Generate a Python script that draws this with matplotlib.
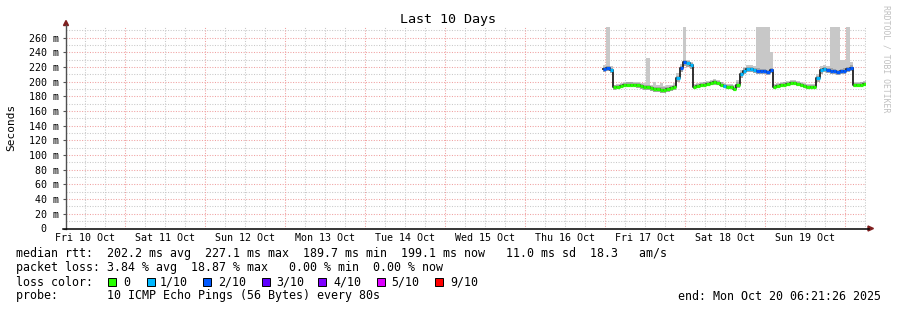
import matplotlib
matplotlib.use("Agg")
import matplotlib.pyplot as plt
import matplotlib.dates as mdates
from matplotlib.patches import Rectangle, Polygon
from datetime import datetime, timedelta
import numpy as np

# ---------------- data ----------------
title = "Last 10 Days"
y_label = "Seconds"
start_time = datetime(2025, 10, 10, 6, 21, 26)
end_time = datetime(2025, 10, 20, 6, 21, 26)
series_start = datetime(2025, 10, 16, 23, 30)   # first hourly sample

median_ms = [217, 218, 216, 192, 193, 194, 195, 196, 196, 195,
             195, 194, 193, 192, 191, 190, 190, 189, 189, 190,
             191, 193, 205, 218, 226, 225, 222, 193, 194, 195,
             196, 197, 198, 199, 198, 196, 194, 193, 193, 190,
             196, 210, 215, 217, 217, 216, 215, 214, 214, 213,
             216, 193, 194, 195, 196, 197, 198, 198, 197, 195,
             194, 193, 193, 193, 205, 216, 217, 216, 215, 214,
             213, 214, 215, 217, 219, 195, 195, 196, 197]
loss_level = [2, 2, 1, 0, 0, 0, 0, 0, 0, 0,
              0, 0, 0, 0, 0, 0, 0, 0, 0, 0,
              0, 0, 1, 2, 2, 1, 1, 0, 0, 0,
              0, 0, 0, 0, 0, 0, 1, 0, 0, 0,
              0, 1, 1, 1, 1, 1, 2, 2, 2, 2,
              2, 0, 0, 0, 0, 0, 0, 0, 0, 0,
              0, 0, 0, 0, 1, 1, 1, 2, 2, 2,
              2, 2, 2, 2, 2, 0, 0, 0, 0]
smoke_hi = [222, 290, 221, 196, 197, 198, 199, 200, 200, 199,
            199, 198, 198, 232, 196, 200, 195, 198, 194, 195,
            196, 198, 212, 224, 290, 230, 227, 197, 198, 199,
            200, 201, 202, 203, 202, 200, 198, 197, 197, 196,
            202, 216, 220, 222, 222, 221, 290, 290, 290, 290,
            240, 197, 198, 199, 200, 201, 202, 202, 201, 199,
            198, 197, 197, 197, 211, 221, 222, 221, 290, 290,
            290, 229, 230, 290, 226, 199, 199, 200, 201]
smoke_lo = [213, 214, 212, 189, 190, 191, 192, 193, 193, 192,
            191, 190, 189, 188, 187, 186, 186, 185, 185, 186,
            187, 189, 199, 213, 221, 220, 217, 190, 191, 192,
            193, 194, 195, 196, 195, 193, 191, 190, 190, 187,
            191, 205, 211, 213, 213, 212, 211, 210, 210, 209,
            212, 190, 191, 192, 193, 194, 195, 195, 194, 192,
            191, 190, 190, 190, 199, 211, 213, 212, 211, 210,
            209, 210, 211, 213, 215, 192, 192, 193, 194]

loss_labels = ["0", "1/10", "2/10", "3/10", "4/10", "5/10", "9/10"]
loss_colors = ["#26ff00", "#00b8ff", "#0059ff", "#5e00ff", "#7e00ff", "#dd00ff", "#ff0000"]

day_labels = ["Fri 10 Oct", "Sat 11 Oct", "Sun 12 Oct", "Mon 13 Oct", "Tue 14 Oct",
              "Wed 15 Oct", "Thu 16 Oct", "Fri 17 Oct", "Sat 18 Oct", "Sun 19 Oct"]
y_ticks = [0, 20, 40, 60, 80, 100, 120, 140, 160, 180, 200, 220, 240, 260]

line_rtt = "median rtt:  202.2 ms avg  227.1 ms max  189.7 ms min  199.1 ms now   11.0 ms sd  18.3   am/s"
line_loss = "packet loss: 3.84 % avg  18.87 % max   0.00 % min  0.00 % now"
line_color = "loss color:"
line_probe = "probe:       10 ICMP Echo Pings (56 Bytes) every 80s"
line_end = "end: Mon Oct 20 06:21:26 2025"
watermark = "RRDTOOL / TOBI OETIKER"

# ---------------- figure ----------------
W, H = 897, 310
MONO = "DejaVu Sans Mono"
fig = plt.figure(figsize=(W / 100, H / 100), dpi=100)
fig.patch.set_facecolor("white")

left_px, right_px, top_px, bot_px = 66, 866, 27, 228.5
ax = fig.add_axes([left_px / W, 1 - bot_px / H, (right_px - left_px) / W, (bot_px - top_px) / H])
ax.set_facecolor("white")

x0 = mdates.date2num(start_time)
x1 = mdates.date2num(end_time)
ax.set_xlim(x0, x1)
ax.set_ylim(0, 274.3)

# grid lines
dot = (0, (1, 1.5))
RED = "#f0a0a0"
GRAY = "#c8c8c8"
for v in range(10, 275, 10):
    major = (v % 20 == 0)
    ax.axhline(v, color=RED if major else GRAY, lw=0.75, ls=dot, zorder=0.5)
grid_t = datetime(2025, 10, 10, 12, 0)
while grid_t < end_time:
    xv = mdates.date2num(grid_t)
    if xv > x0:
        ax.axvline(xv, color=RED if grid_t.hour == 0 else GRAY, lw=0.75, ls=dot, zorder=0.5)
    grid_t += timedelta(hours=6)

# series
n = len(median_ms)
times = [series_start + timedelta(hours=i) for i in range(n + 1)]
tn = mdates.date2num(times)
med = np.array(median_ms + [median_ms[-1]], dtype=float)
hi = np.array(smoke_hi + [smoke_hi[-1]], dtype=float)
lo = np.array(smoke_lo + [smoke_lo[-1]], dtype=float)

ax.fill_between(tn, lo, hi, step="post", color="#c8c8c8", lw=0, zorder=1)
inner_hi = np.minimum(hi, med + 3)
ax.fill_between(tn, lo, inner_hi, step="post", color="#a6a6a6", lw=0, zorder=1.2)
ax.plot(tn, med, drawstyle="steps-post", color="#202020", lw=1.3, zorder=2)
for i in range(n):
    ax.hlines(median_ms[i], tn[i], tn[i + 1], color=loss_colors[loss_level[i]],
              lw=2.3, zorder=3, capstyle="butt")

# axes / ticks
for s in ax.spines.values():
    s.set_visible(False)
ax.set_yticks(y_ticks)
ax.set_yticklabels([("%d m" % v) if v else "0  " for v in y_ticks], fontfamily=MONO, fontsize=7.2)
ax.tick_params(axis="y", length=2, width=0.8, color="#555555", pad=3)
noon_ticks = [mdates.date2num(datetime(2025, 10, 10 + k, 12, 0)) for k in range(len(day_labels))]
ax.set_xticks(noon_ticks)
ax.set_xticklabels(day_labels, fontfamily=MONO, fontsize=7.2)
ax.tick_params(axis="x", length=0, pad=3)

# axis lines with arrows (figure pixel coords)
def fx(px):
    return px / W

def fy(py):
    return 1 - py / H

fig.add_artist(plt.Line2D([fx(66), fx(66)], [fy(229), fy(25)], color="#505050", lw=1))
fig.add_artist(plt.Line2D([fx(63), fx(869)], [fy(228.5), fy(228.5)], color="black", lw=1.1))
fig.add_artist(Polygon([[fx(63.5), fy(25.5)], [fx(68.5), fy(25.5)], [fx(66), fy(20.5)]],
                       closed=True, color="#7f1f1f", transform=fig.transFigure))
fig.add_artist(Polygon([[fx(868), fy(226)], [fx(868), fy(231)], [fx(873.5), fy(228.5)]],
                       closed=True, color="#7f1f1f", transform=fig.transFigure))

# texts
fig.text(fx(448), fy(19), title, fontfamily=MONO, fontsize=9.6, ha="center", va="center")
fig.text(fx(11), fy(127), y_label, fontfamily=MONO, fontsize=8, rotation=90, ha="center", va="center")
fig.text(fx(886), fy(5), watermark, fontfamily=MONO, fontsize=5.9, rotation=-90,
         ha="center", va="top", color="#c0c0c0")

fs = 8.37
fig.text(fx(15.7), fy(254), line_rtt, fontfamily=MONO, fontsize=fs, ha="left", va="center")
fig.text(fx(15.7), fy(268), line_loss, fontfamily=MONO, fontsize=fs, ha="left", va="center")
fig.text(fx(15.7), fy(282), line_color, fontfamily=MONO, fontsize=fs, ha="left", va="center")
fig.text(fx(15.7), fy(296), line_probe, fontfamily=MONO, fontsize=fs, ha="left", va="center")
fig.text(fx(880.5), fy(296), line_end, fontfamily=MONO, fontsize=fs, ha="right", va="center")

box_x = [108, 147, 203, 262, 318, 377, 435]
label_x = [123, 160, 218, 276, 333, 391, 450]
for bx, lx, lab, col in zip(box_x, label_x, loss_labels, loss_colors):
    fig.add_artist(Rectangle((fx(bx), fy(286)), 7.5 / W, 8 / H, transform=fig.transFigure,
                             facecolor=col, edgecolor="black", lw=0.7))
    fig.text(fx(lx), fy(282), lab, fontfamily=MONO, fontsize=fs, ha="left", va="center")

fig.savefig("out.png", dpi=100, facecolor="white")
